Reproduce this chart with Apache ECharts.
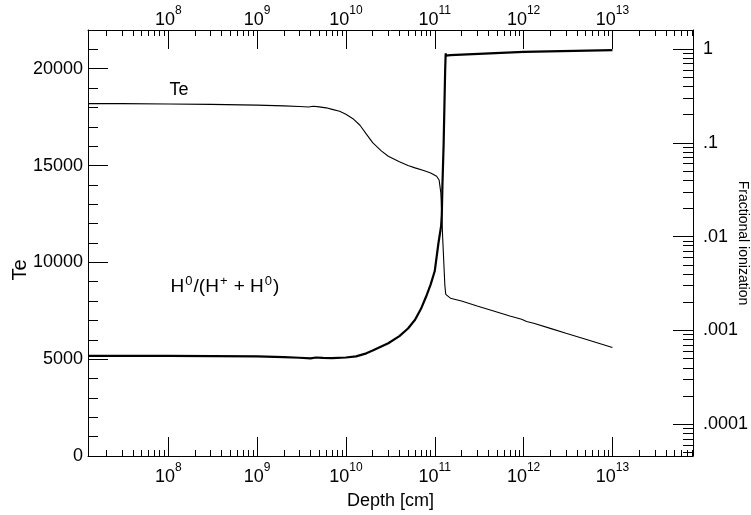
<!DOCTYPE html>
<html><head><meta charset="utf-8">
<script src="https://cdn.jsdelivr.net/npm/echarts@6/dist/echarts.min.js"></script>
<style>html,body{margin:0;padding:0;background:#fff}#c{width:751px;height:515px}</style>
</head><body><div id="c"></div>
<script>
// ---- data ----
const depthTe = [1.25e7,3e7,1e8,3e8,1e9,2e9,3e9,3.8e9,4.3e9,5e9,6e9,7e9,8.5e9,1e10,1.2e10,1.44e10,1.7e10,2e10,2.5e10,3e10,4e10,5e10,6e10,7.5e10,9e10,1.05e11,1.12e11,1.17e11,1.2e11,1.23e11,1.27e11,1.3e11,1.33e11,1.34e11,1.5e11,2e11,3e11,5e11,7e11,9.5e11,1.08e12,1.3e12,2e12,3e12,5e12,7e12,1e13];
const teValues = [18200,18200,18180,18160,18120,18080,18050,18020,18060,18030,17980,17900,17800,17650,17420,17080,16620,16180,15760,15480,15200,15000,14880,14740,14620,14450,14250,13600,12500,11200,9800,8800,8350,8250,8150,8000,7750,7440,7230,7060,6950,6860,6590,6340,6030,5820,5600];
const depthIon = [1.25e7,1e8,1e9,2e9,3e9,4e9,4.6e9,5.5e9,7e9,1e10,1.3e10,1.7e10,2e10,3e10,4e10,5e10,6e10,7e10,8e10,9e10,1e11,1.1e11,1.18e11,1.2e11,1.22e11,1.26e11,1.29e11,1.31e11,1.325e11,1.33e11,1.34e11,1.5e11,1e12,1e13];
const ionValues = [5.35e-4,5.35e-4,5.3e-4,5.2e-4,5.12e-4,5.05e-4,5.15e-4,5.1e-4,5.08e-4,5.15e-4,5.3e-4,5.7e-4,6.1e-4,7.3e-4,8.7e-4,1.05e-3,1.3e-3,1.7e-3,2.3e-3,3.1e-3,4.3e-3,8.5e-3,1.3e-2,1.7e-2,3.5e-2,0.1,0.3,0.6,0.85,0.9,0.85,0.86,0.93,0.975];
const depthMajorTicks = [1e8,1e9,1e10,1e11,1e12,1e13];
const teMajorTicks = [0,5000,10000,15000,20000];
const ionMajorTicks = [1e-4,1e-3,1e-2,1e-1,1];
const ionTickLabels = ['.0001','.001','.01','.1','1'];

// ---- layout / style ----
const FONT = '"Liberation Sans", Arial, Helvetica, sans-serif';
const X_MIN = 1.25e7, X_MAX = 8.07e13;
const ION_MIN = 4.59e-5, ION_MAX = 1.594;
const TE_MIN = 0, TE_MAX = 22000;

function minorLog(lo, hi) {
  const out = [];
  for (let e = -6; e <= 14; e++) for (let k = 2; k <= 9; k++) {
    const v = parseFloat((k * Math.pow(10, e)).toPrecision(6));
    if (v >= lo && v <= hi) out.push(v);
  }
  return out;
}
const teMinor = [];
for (let v = 0; v <= TE_MAX; v += 1000) if (v % 5000 !== 0) teMinor.push(v);

const lineCol = '#000';
const richPow = {
  b: { fontSize: 18, fontFamily: FONT, color: '#000', lineHeight: 24, verticalAlign: 'bottom' },
  s: { fontSize: 12, fontFamily: FONT, color: '#000', lineHeight: 24, verticalAlign: 'top', padding: [0, 0, 10, 0] }
};
const powFmt = v => '{b|10}{s|' + Math.round(Math.log10(v)) + '}';

function xAxisDef(pos, major) {
  return {
    type: 'log', logBase: 10, min: X_MIN, max: X_MAX, position: pos, gridIndex: 0,
    axisLine: { show: major, lineStyle: { color: lineCol, width: 1 } },
    axisTick: { show: true, inside: true, length: major ? 19 : 6,
      customValues: major ? depthMajorTicks : minorLog(X_MIN, X_MAX),
      lineStyle: { color: lineCol, width: 1 } },
    axisLabel: major ? { show: true, customValues: depthMajorTicks, formatter: powFmt, rich: richPow, margin: pos === 'bottom' ? 6 : 1 } : { show: false },
    splitLine: { show: false }, minorTick: { show: false }
  };
}

const chart = echarts.init(document.getElementById('c'), null, { renderer: 'canvas' });
const bottomMajor = xAxisDef('bottom', true);
bottomMajor.name = 'Depth [cm]';
bottomMajor.nameLocation = 'middle';
bottomMajor.nameGap = 36;
bottomMajor.nameMoveOverlap = false;
bottomMajor.nameTextStyle = { fontSize: 18, fontFamily: FONT, color: '#000' };

chart.setOption({
  animation: false,
  backgroundColor: '#fff',
  grid: { left: 88, right: 58, top: 30, bottom: 59, containLabel: false, outerBoundsMode: 'none' },
  xAxis: [bottomMajor, xAxisDef('bottom', false), xAxisDef('top', true), xAxisDef('top', false)],
  yAxis: [
    { type: 'value', min: TE_MIN, max: TE_MAX, position: 'left',
      axisLine: { show: true, lineStyle: { color: lineCol } },
      axisTick: { show: true, inside: true, length: 20, customValues: teMajorTicks, lineStyle: { color: lineCol } },
      axisLabel: { customValues: teMajorTicks, formatter: v => String(v), fontSize: 18, fontFamily: FONT, color: '#000', margin: 5 },
      splitLine: { show: false } },
    { type: 'value', min: TE_MIN, max: TE_MAX, position: 'left',
      axisLine: { show: false },
      axisTick: { show: true, inside: true, length: 10, customValues: teMinor, lineStyle: { color: lineCol } },
      axisLabel: { show: false }, splitLine: { show: false } },
    { type: 'log', logBase: 10, min: ION_MIN, max: ION_MAX, position: 'right',
      axisLine: { show: true, lineStyle: { color: lineCol } },
      axisTick: { show: true, inside: true, length: 20, customValues: ionMajorTicks, lineStyle: { color: lineCol } },
      axisLabel: { customValues: ionMajorTicks, fontSize: 18, fontFamily: FONT, color: '#000', margin: 10,
        formatter: v => { let bi = 0, bd = 1e9; ionMajorTicks.forEach((t, i) => { const d = Math.abs(Math.log10(t) - Math.log10(v)); if (d < bd) { bd = d; bi = i; } }); return ionTickLabels[bi]; } },
      name: 'Fractional ionization', nameLocation: 'middle', nameRotate: -90, nameGap: 43, nameMoveOverlap: false,
      nameTextStyle: { fontSize: 14, fontFamily: FONT, color: '#000' },
      splitLine: { show: false } },
    { type: 'log', logBase: 10, min: ION_MIN, max: ION_MAX, position: 'right',
      axisLine: { show: false },
      axisTick: { show: true, inside: true, length: 10, customValues: minorLog(ION_MIN, ION_MAX), lineStyle: { color: lineCol } },
      axisLabel: { show: false }, splitLine: { show: false } }
  ],
  series: [
    { name: 'Te', type: 'line', xAxisIndex: 0, yAxisIndex: 0, showSymbol: false, symbol: 'none',
      lineStyle: { color: '#000', width: 1.1 }, data: depthTe.map((d, i) => [d, teValues[i]]) },
    { name: 'H0/(H+ + H0)', type: 'line', xAxisIndex: 0, yAxisIndex: 2, showSymbol: false, symbol: 'none',
      lineStyle: { color: '#000', width: 2.2 }, data: depthIon.map((d, i) => [d, ionValues[i]]) }
  ],
  graphic: [
    { type: 'text', x: 20, y: 270, rotation: Math.PI / 2,
      style: { text: 'Te', font: '20px ' + FONT, fill: '#000', align: 'center', verticalAlign: 'middle' } },
    { type: 'text', x: 179, y: 90,
      style: { text: 'Te', font: '18px ' + FONT, fill: '#000', align: 'center', verticalAlign: 'middle' } },
    { type: 'text', x: 225, y: 287,
      style: { text: 'H{s|0}/(H{s|+} + H{s|0})', fill: '#000', align: 'center', verticalAlign: 'middle',
        fontSize: 19, fontFamily: FONT, lineHeight: 24,
        rich: { s: { fontSize: 13, fontFamily: FONT, fill: '#000', lineHeight: 24, verticalAlign: 'top', padding: [0, 1, 10, 1] } } } }
  ]
});
</script></body></html>
